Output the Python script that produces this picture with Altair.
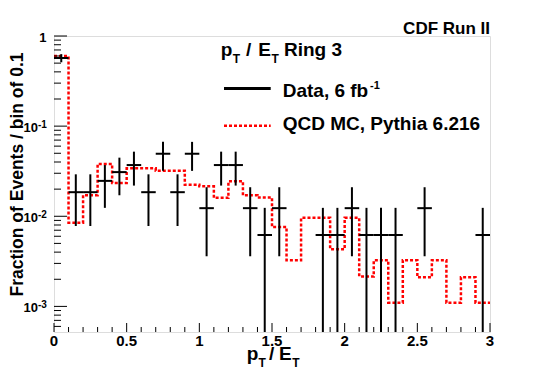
import altair as alt
import pandas as pd

# ---------------- data ----------------
data_x = [0.05, 0.15, 0.25, 0.35, 0.45, 0.55, 0.65, 0.75, 0.85, 0.95, 1.05, 1.15,
          1.25, 1.35, 1.45, 1.55, 1.85, 1.95, 2.05, 2.15, 2.25, 2.35, 2.55, 2.95]
data_y = [0.57, 0.0185, 0.0185, 0.0247, 0.0309, 0.037, 0.0185, 0.0494, 0.0185, 0.0494,
          0.0123, 0.037, 0.037, 0.0123, 0.0062, 0.0123, 0.0062, 0.0062, 0.0123, 0.0062,
          0.0062, 0.0062, 0.0123, 0.0062]
data_err = [0.059, 0.0107, 0.0107, 0.0123, 0.0138, 0.0151, 0.0107, 0.0175, 0.0107, 0.0175,
            0.0087, 0.0151, 0.0151, 0.0087, 0.0062, 0.0087, 0.0062, 0.0062, 0.0087, 0.0062,
            0.0062, 0.0062, 0.0087, 0.0062]

mc_edges = [0.0, 0.1, 0.2, 0.3, 0.4, 0.5, 0.6, 0.7, 0.8, 0.9, 1.0, 1.1, 1.2, 1.3, 1.4, 1.5,
            1.6, 1.7, 1.8, 1.9, 2.0, 2.1, 2.2, 2.3, 2.4, 2.5, 2.6, 2.7, 2.8, 2.9, 3.0]
mc_vals = [0.60, 0.0085, 0.0171, 0.038, 0.0234, 0.034, 0.034, 0.032, 0.032, 0.0223,
           0.0215, 0.016, 0.0245, 0.0171, 0.0162, 0.0076, 0.00325, 0.0096, 0.0096, 0.0043,
           0.0096, 0.00215, 0.00325, 0.0011, 0.00325, 0.0021, 0.00325, 0.0011, 0.0021, 0.0011]

x_major = [0, 0.5, 1, 1.5, 2, 2.5, 3]
x_labels = ["0", "0.5", "1", "1.5", "2", "2.5", "3"]
x_minor = [0.1, 0.2, 0.3, 0.4, 0.6, 0.7, 0.8, 0.9, 1.1, 1.2, 1.3, 1.4, 1.6, 1.7, 1.8, 1.9,
           2.1, 2.2, 2.3, 2.4, 2.6, 2.7, 2.8, 2.9]
y_major = [1, 0.1, 0.01, 0.001]
y_base = ["1", "10", "10", "10"]
y_exp = ["", "-1", "-2", "-3"]
y_minor = [0.9, 0.8, 0.7, 0.6, 0.5, 0.4, 0.3, 0.2,
           0.09, 0.08, 0.07, 0.06, 0.05, 0.04, 0.03, 0.02,
           0.009, 0.008, 0.007, 0.006, 0.005, 0.004, 0.003, 0.002,
           0.0009, 0.0008, 0.0007, 0.0006]

W, H = 436, 296
YMIN, YMAX = 0.00052, 1.0
FONT = "Liberation Sans"

xs = alt.Scale(domain=[0, 3], nice=False, zero=False)
ys = alt.Scale(type="log", domain=[YMIN, YMAX], nice=False)

# ---------------- MC histogram ----------------
df_mc = pd.DataFrame({"x": mc_edges, "v": mc_vals + [mc_vals[-1]]})
mc = alt.Chart(df_mc).mark_line(
    interpolate="step-after", color="#ff0000", strokeWidth=2.5,
    strokeDash=[3, 2], clip=True
).encode(
    x=alt.X("x:Q", scale=xs, axis=None),
    y=alt.Y("v:Q", scale=ys, axis=None),
)

# ---------------- data points ----------------
df_d = pd.DataFrame({"x": data_x, "y": data_y, "err": data_err})
base = alt.Chart(df_d).transform_calculate(
    lo=f"max(datum.y - datum.err, {YMIN})",
    hi="datum.y + datum.err",
    xl="datum.x - 0.05",
    xr="datum.x + 0.05",
)
hbar = base.mark_rule(color="black", strokeWidth=2, clip=True).encode(
    x=alt.X("xl:Q", scale=xs, axis=None), x2="xr:Q",
    y=alt.Y("y:Q", scale=ys, axis=None),
)
vbar = base.mark_rule(color="black", strokeWidth=2, clip=True).encode(
    x=alt.X("x:Q", scale=xs, axis=None),
    y=alt.Y("lo:Q", scale=ys, axis=None), y2="hi:Q",
)

# ---------------- ticks (inside, ROOT style) ----------------
def xticks(vals, length):
    return alt.Chart(pd.DataFrame({"v": vals})).mark_rule(color="black", strokeWidth=1).encode(
        x=alt.X("v:Q", scale=xs, axis=None), y=alt.value(H), y2=alt.value(H - length))

def yticks(vals, length):
    return alt.Chart(pd.DataFrame({"v": vals})).mark_rule(color="black", strokeWidth=1).encode(
        y=alt.Y("v:Q", scale=ys, axis=None), x=alt.value(0), x2=alt.value(length))

ticks = [xticks(x_major, 9), xticks(x_minor, 5), yticks(y_major, 13), yticks(y_minor, 7)]

# ---------------- tick labels ----------------
xlab = alt.Chart(pd.DataFrame({"v": x_major, "t": x_labels})).mark_text(
    font=FONT, fontWeight="bold", fontSize=15, align="center", baseline="alphabetic"
).encode(x=alt.X("v:Q", scale=xs, axis=None), y=alt.value(H + 13.5), text="t:N")

df_yl = pd.DataFrame({"v": y_major, "b": y_base, "e": y_exp})
ylab_one = alt.Chart(df_yl).transform_filter("datum.e == ''").mark_text(
    font=FONT, fontWeight="bold", fontSize=13, align="right", baseline="alphabetic", dy=6
).encode(y=alt.Y("v:Q", scale=ys, axis=None), x=alt.value(-7.5), text="b:N")
ylab_base = alt.Chart(df_yl).transform_filter("datum.e != ''").mark_text(
    font=FONT, fontWeight="bold", fontSize=13, align="right", baseline="alphabetic", dy=6
).encode(y=alt.Y("v:Q", scale=ys, axis=None), x=alt.value(-16), text="b:N")
ylab_exp = alt.Chart(df_yl).transform_filter("datum.e != ''").mark_text(
    font=FONT, fontWeight="bold", fontSize=10, align="left", baseline="alphabetic", dy=1.5
).encode(y=alt.Y("v:Q", scale=ys, axis=None), x=alt.value(-16), text="e:N")

# ---------------- free text ----------------
def txt(s, x, y, size, align="left", angle=0, baseline="alphabetic"):
    return alt.Chart(pd.DataFrame({"t": [s]})).mark_text(
        font=FONT, fontWeight="bold", fontSize=size, align=align, angle=angle,
        baseline=baseline, color="black"
    ).encode(x=alt.value(x), y=alt.value(y), text="t:N")

texts = [
    txt("CDF Run II", W, -2, 17, align="right"),
    # title  p_T / E_T Ring 3
    txt("p", 166.7, 20, 19), txt("T", 178.8, 27.3, 12), txt("/", 192, 20, 19),
    txt("E", 204.3, 20, 19), txt("T", 217.5, 27.3, 12), txt("Ring 3", 230, 20, 19),
    # legend
    txt("Data, 6 fb", 228.7, 61.3, 19), txt("-1", 316, 53.3, 11),
    txt("QCD MC, Pythia 6.216", 228.7, 94.3, 19),
    # x title
    txt("p", 192.7, 324, 19), txt("T", 204.5, 330.7, 12), txt("/", 215, 324, 19),
    txt("E", 225, 324, 19), txt("T", 238.3, 330.7, 12),
    # y title
    txt("Fraction of Events / bin of 0.1", -31, 138.5, 17.5, align="center", angle=270),
]

leg_data = alt.Chart(pd.DataFrame({"k": ["Data"]})).mark_rule(color="black", strokeWidth=3).encode(
    x=alt.value(170), x2=alt.value(216.7), y=alt.value(52.5))
leg_mc = alt.Chart(pd.DataFrame({"k": ["MC"]})).mark_rule(
    color="#ff0000", strokeWidth=2.5, strokeDash=[3, 2]).encode(
    x=alt.value(170), x2=alt.value(216.7), y=alt.value(89.7))

chart = alt.layer(
    mc, *ticks, hbar, vbar, xlab, ylab_one, ylab_base, ylab_exp, leg_data, leg_mc, *texts
).properties(
    width=W, height=H,
    padding={"left": 46, "top": 28, "right": 47, "bottom": 37},
    autosize="none",
).configure_view(stroke="black", strokeWidth=1).configure(background="white")

chart.save("out.html", embed_options={"renderer": "svg", "actions": False})
